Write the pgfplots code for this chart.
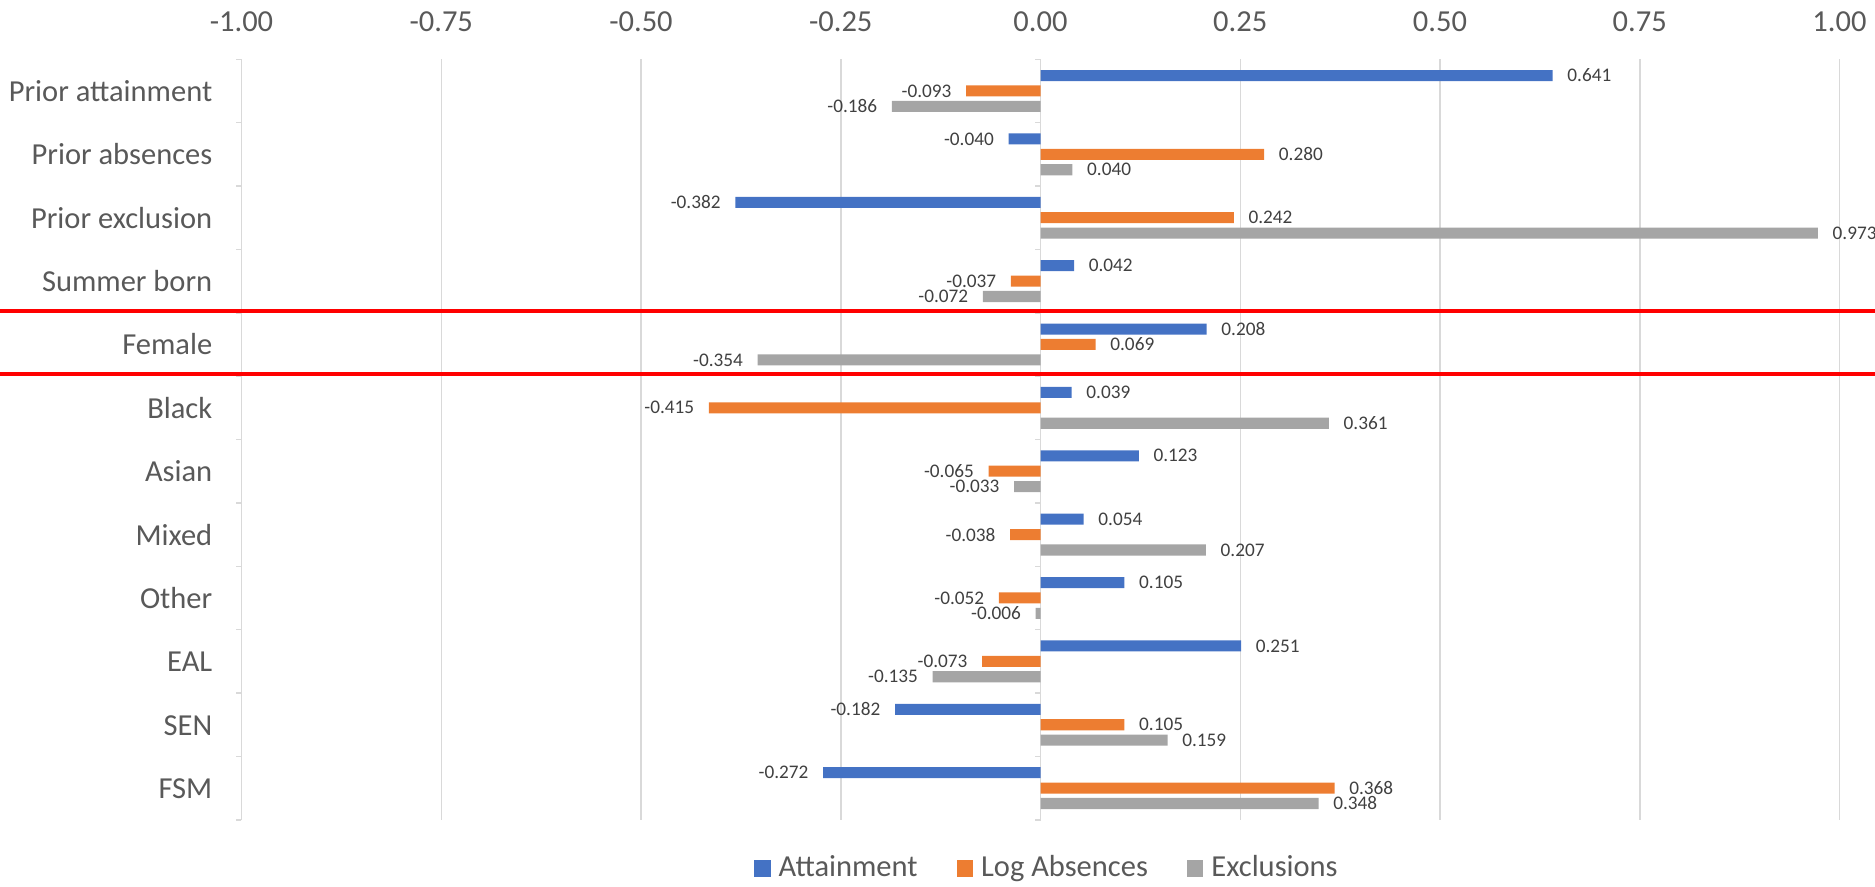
\documentclass[border=0pt]{standalone}
\usepackage{pgfplots}
\pgfplotsset{compat=1.18}
\usepackage{fontspec}
\setmainfont{Carlito}

\definecolor{cblue}{HTML}{4472C4}
\definecolor{corange}{HTML}{ED7D31}
\definecolor{cgray}{HTML}{A5A5A5}
\definecolor{gridgray}{HTML}{D9D9D9}
\definecolor{textgray}{HTML}{595959}
\definecolor{labelgray}{HTML}{404040}

\begin{document}
\begin{tikzpicture}
\path[use as bounding box] (0,0) rectangle (750pt,354.4pt);
\begin{axis}[
  at={(96.6pt,26.5pt)}, anchor=south west,
  scale only axis, width=639.2pt, height=304.2pt,
  xmin=-1, xmax=1, ymin=-0.5, ymax=11.5,
  y dir=reverse,
  clip=false,
  axis line style={draw=none},
  /pgf/number format/assume math mode=true,
  xtick={-1,-0.75,-0.5,-0.25,0,0.25,0.5,0.75,1},
  xticklabel={\pgfmathprintnumber[fixed,fixed zerofill,precision=2]{\tick}},
  xticklabel pos=upper,
  xticklabel style={anchor=center, yshift=15.1pt, inner sep=0pt,
    font=\fontsize{12.2}{14}\selectfont, text=textgray},
  ytick={0,...,11},
  yticklabels={Prior attainment, Prior absences, Prior exclusion, Summer born,
    Female, Black, Asian, Mixed, Other, EAL, SEN, FSM},
  yticklabel style={anchor=mid east, inner sep=0pt, xshift=-11.5pt, yshift=-1.8pt,
    font=\fontsize{12.2}{14}\selectfont, text=textgray},
  major tick length=0pt,
  xmajorgrids,
  grid style={draw=gridgray, line width=0.6pt},
  xbar,
  bar width=0.175,
  point meta=x,
  nodes near coords={\pgfmathprintnumber[fixed,fixed zerofill,precision=3]{\pgfplotspointmeta}},
  nodes near coords style={font=\fontsize{7.7}{9}\selectfont, text=labelgray,
    inner xsep=5.7pt, inner ysep=0pt},
  legend columns=-1,
  legend style={at={(0.5034,-0.0638)}, anchor=center, draw=none, fill=none,
    inner sep=0pt, font=\fontsize{12.2}{14}\selectfont, text=textgray,
    nodes={inner sep=0pt},
    /tikz/every odd column/.style={column sep=3.2pt},
    /tikz/every even column/.style={column sep=15.6pt}},
  legend image code/.code={\fill (0pt,-3.3pt) rectangle (6.6pt,3.3pt);},
]
% Attainment
\addplot[fill=cblue, draw=none, bar shift=-0.243] coordinates {
  (0.641,0) (-0.040,1) (-0.382,2) (0.042,3) (0.208,4) (0.039,5)
  (0.123,6) (0.054,7) (0.105,8) (0.251,9) (-0.182,10) (-0.272,11)};
% Log absences
\addplot[fill=corange, draw=none, bar shift=0] coordinates {
  (-0.093,0) (0.280,1) (0.242,2) (-0.037,3) (0.069,4) (-0.415,5)
  (-0.065,6) (-0.038,7) (-0.052,8) (-0.073,9) (0.105,10) (0.368,11)};
% Exclusions
\addplot[fill=cgray, draw=none, bar shift=0.243] coordinates {
  (-0.186,0) (0.040,1) (0.973,2) (-0.072,3) (-0.354,4) (0.361,5)
  (-0.033,6) (0.207,7) (-0.006,8) (-0.135,9) (0.159,10) (0.348,11)};
\legend{Attainment, Log Absences, Exclusions}

% small category separators on the left of the -1 and 0 lines
\pgfplotsinvokeforeach{0,...,12}{
  \draw[gridgray, line width=0.6pt] (axis cs:-1,#1-0.5) -- ++(-2.2pt,0pt);
  \draw[gridgray, line width=0.6pt] (axis cs:0,#1-0.5) -- ++(-2.2pt,0pt);
}
\coordinate (redA) at (axis cs:0,3.47);
\coordinate (redB) at (axis cs:0,4.47);
\end{axis}
% band marking the Female row
\draw[red, line width=1.6pt] (0pt,0pt |- redA) -- (750pt,0pt |- redA);
\draw[red, line width=1.6pt] (0pt,0pt |- redB) -- (750pt,0pt |- redB);
\end{tikzpicture}
\end{document}
